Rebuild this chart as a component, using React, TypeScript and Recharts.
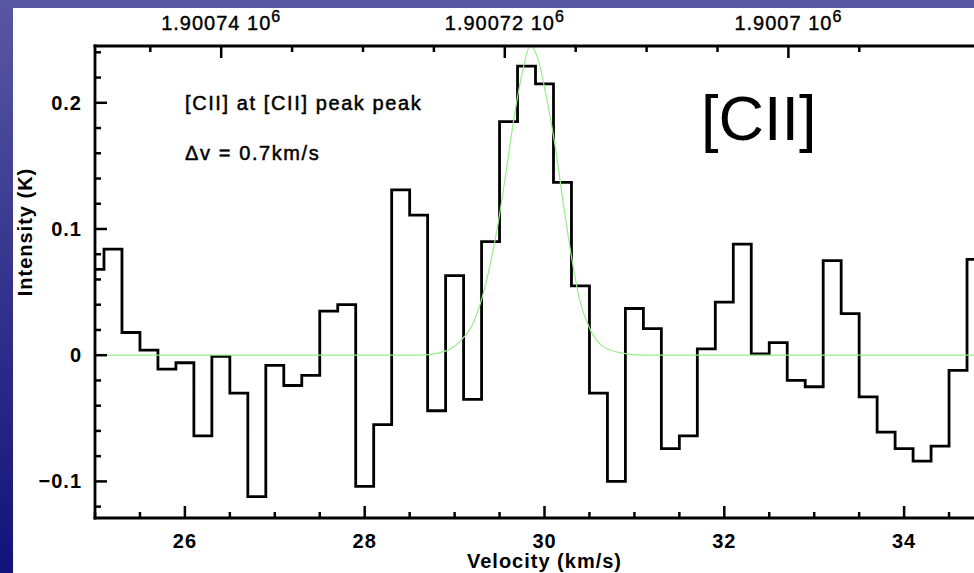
import { ComposedChart, Line, XAxis, YAxis } from "recharts";

// channel centres (km/s) and measured intensity (K)
const VELOCITY = [
  25.0, 25.2, 25.4, 25.6, 25.8, 26.0, 26.2, 26.4, 26.6, 26.8,
  27.0, 27.2, 27.4, 27.6, 27.8, 28.0, 28.2, 28.4, 28.6, 28.8,
  29.0, 29.2, 29.4, 29.6, 29.8, 30.0, 30.2, 30.4, 30.6, 30.8,
  31.0, 31.2, 31.4, 31.6, 31.8, 32.0, 32.2, 32.4, 32.6, 32.8,
  33.0, 33.2, 33.4, 33.6, 33.8, 34.0, 34.2, 34.4, 34.6, 34.8,
];
const INTENSITY = [
  0.068, 0.084, 0.018, 0.004, -0.011, -0.006, -0.064, -0.001, -0.03, -0.112,
  -0.008, -0.024, -0.016, 0.035, 0.04, -0.104, -0.055, 0.131, 0.111, -0.044,
  0.063, -0.035, 0.09, 0.185, 0.229, 0.215, 0.137, 0.055, -0.03, -0.1,
  0.037, 0.021, -0.074, -0.064, 0.005, 0.042, 0.088, 0.001, 0.01, -0.02,
  -0.025, 0.075, 0.033, -0.033, -0.061, -0.074, -0.084, -0.072, -0.012, 0.076,
];

// gaussian fit
const FIT_VELOCITY = [
  25.0, 28.6, 28.84, 29.06, 29.21, 29.3, 29.39, 29.49, 29.58, 29.67, 29.75, 29.84,
  29.93, 30.02, 30.12, 30.21, 30.3, 30.39, 30.51, 30.65, 30.84, 31.1, 35.0,
];
const FIT_INTENSITY = [
  0, 0, 0.002, 0.011, 0.026, 0.044, 0.07, 0.107, 0.149, 0.192, 0.223, 0.245,
  0.234, 0.205, 0.165, 0.12, 0.078, 0.044, 0.02, 0.007, 0.002, 0, 0,
];

const VEL_TICKS = [
  25, 25.5, 26, 26.5, 27, 27.5, 28, 28.5, 29, 29.5, 30,
  30.5, 31, 31.5, 32, 32.5, 33, 33.5, 34, 34.5, 35,
];
const VEL_LABELS = [26, 28, 30, 32, 34];

const INT_TICKS = [
  -0.12, -0.1, -0.08, -0.06, -0.04, -0.02, 0, 0.02, 0.04, 0.06, 0.08, 0.1,
  0.12, 0.14, 0.16, 0.18, 0.2, 0.22, 0.24,
];
const INT_LABELS = [-0.1, 0, 0.1, 0.2];

// top axis: frequency in units of 10^6
const FREQ_TICKS = [
  1.900745, 1.90074, 1.900735, 1.90073, 1.900725, 1.90072,
  1.900715, 1.90071, 1.900705, 1.9007, 1.900695,
];
const FREQ_LABELS = [1.90074, 1.90072, 1.9007];

const FREQ_DOMAIN = [1.9006855, 1.9007489];
const VEL_DOMAIN = [25, 35];
const INT_DOMAIN = [-0.129, 0.245];

const hist = VELOCITY.map((v, i) => ({ v, k: INTENSITY[i] }));
const fit = FIT_VELOCITY.map((v, i) => ({ v, k: FIT_INTENSITY[i] }));
// invisible series so the frequency axis gets a scale
const freqEnds = FREQ_DOMAIN.map((f) => ({ f, k: 0 }));

const FONT = '"Liberation Sans", Arial, Helvetica, sans-serif';
const has = (list: number[], v: number) => list.some((d) => Math.abs(d - v) < 1e-7);

function BottomTick({ x, y, payload }: any) {
  const major = has(VEL_LABELS, payload.value);
  return (
    <g>
      <line x1={x} x2={x} y1={y} y2={y - (major ? 12 : 6)} stroke="#000" strokeWidth={2.5} />
      {major && (
        <text x={x} y={y + 30} textAnchor="middle" fontFamily={FONT} fontSize={20} fontWeight="bold" letterSpacing={1} fill="#000">
          {payload.value}
        </text>
      )}
    </g>
  );
}

function LeftTick({ x, y, payload }: any) {
  const major = has(INT_LABELS, payload.value);
  const v = payload.value;
  const label = Math.abs(v) < 1e-9 ? "0" : v < 0 ? "\u2212" + String(-v) : String(v);
  return (
    <g>
      <line x1={x} x2={x + (major ? 12 : 6)} y1={y} y2={y} stroke="#000" strokeWidth={2.5} />
      {major && (
        <text x={x - 13} y={y + 7} textAnchor="end" fontFamily={FONT} fontSize={20} fontWeight="bold" letterSpacing={1} fill="#000">
          {label}
        </text>
      )}
    </g>
  );
}

function TopTick({ x, y, payload }: any) {
  const major = has(FREQ_LABELS, payload.value);
  return (
    <g>
      <line x1={x} x2={x} y1={y} y2={y + (major ? 12 : 6)} stroke="#000" strokeWidth={2.5} />
      {major && (
        <text
          x={x}
          y={y - 16}
          textAnchor="middle"
          fontFamily={FONT}
          fontSize={20}
          letterSpacing={1}
          fill="#000"
          stroke="#000"
          strokeWidth={0.4}
        >
          <tspan>{String(payload.value) + " 10"}</tspan>
          <tspan dy={-8} fontSize={16}>6</tspan>
        </text>
      )}
    </g>
  );
}

const axisLine = { stroke: "#000", strokeWidth: 2.8, strokeLinecap: "square" as const };

export default function App() {
  return (
    <div
      style={{
        position: "absolute",
        left: 0,
        top: 0,
        width: 974,
        height: 573,
        overflow: "hidden",
        background: "linear-gradient(180deg, #5a57a3 0%, #3a3a92 40%, #12137a 100%)",
      }}
    >
      <div style={{ position: "absolute", left: 13, top: 8, right: 0, bottom: 0, background: "#fff" }} />
      <div style={{ position: "absolute", left: 0, top: 0 }}>
        <ComposedChart width={1000} height={573} margin={{ top: 16, right: 6, bottom: 15, left: 15 }}>
          <XAxis
            xAxisId="vel"
            dataKey="v"
            type="number"
            domain={VEL_DOMAIN}
            allowDataOverflow
            ticks={VEL_TICKS}
            interval={0}
            height={40}
            tickSize={0}
            tickMargin={0}
            tickLine={false}
            tick={<BottomTick />}
            axisLine={axisLine}
          />
          <XAxis
            xAxisId="freq"
            dataKey="f"
            orientation="top"
            type="number"
            domain={FREQ_DOMAIN}
            reversed
            allowDataOverflow
            ticks={FREQ_TICKS}
            interval={0}
            height={30}
            tickSize={0}
            tickMargin={0}
            tickLine={false}
            tick={<TopTick />}
            axisLine={axisLine}
          />
          <YAxis
            type="number"
            domain={INT_DOMAIN}
            allowDataOverflow
            ticks={INT_TICKS}
            interval={0}
            width={80}
            tickSize={0}
            tickMargin={0}
            tickLine={false}
            tick={<LeftTick />}
            axisLine={axisLine}
          />
          <Line
            xAxisId="freq"
            data={freqEnds}
            dataKey="k"
            stroke="none"
            dot={false}
            activeDot={false}
            isAnimationActive={false}
          />
          <Line
            xAxisId="vel"
            data={hist}
            dataKey="k"
            type="step"
            stroke="#000"
            strokeWidth={2.8}
            dot={false}
            activeDot={false}
            isAnimationActive={false}
          />
          <Line
            xAxisId="vel"
            data={fit}
            dataKey="k"
            type="monotone"
            stroke="#98ec8c"
            strokeWidth={1.2}
            dot={false}
            activeDot={false}
            isAnimationActive={false}
          />
        </ComposedChart>
      </div>
      <svg width={974} height={573} style={{ position: "absolute", left: 0, top: 0, pointerEvents: "none" }}>
        <g fontFamily={FONT} fill="#000">
          <text x={185} y={110} fontSize={20} letterSpacing={1.6} stroke="#000" strokeWidth={0.5} xmlSpace="preserve">
            [CII] at [CII] peak peak
          </text>
          <text x={185} y={160} fontSize={20} letterSpacing={1.6} stroke="#000" strokeWidth={0.5} xmlSpace="preserve">
            Δv = 0.7km/s
          </text>
          <text x={701} y={139.5} fontSize={63}>
            [CII]
          </text>
          <text x={544.5} y={568} textAnchor="middle" fontSize={20} fontWeight="bold" letterSpacing={1}>
            Velocity (km/s)
          </text>
          <text x={32} y={232} textAnchor="middle" fontSize={20} fontWeight="bold" letterSpacing={1} transform="rotate(-90 32 232)">
            Intensity (K)
          </text>
        </g>
      </svg>
    </div>
  );
}
